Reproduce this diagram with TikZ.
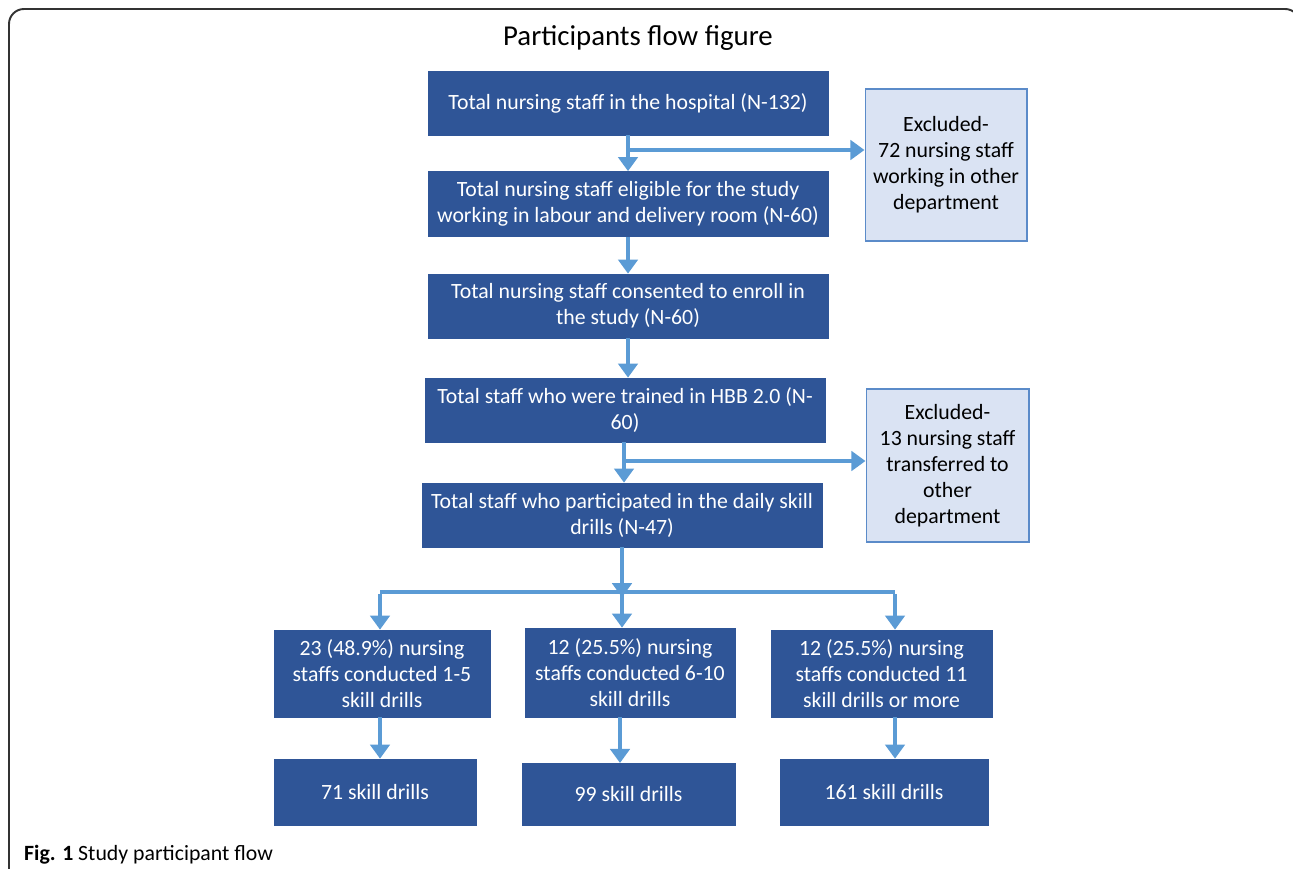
\documentclass[tikz,border=0pt]{standalone}
\usepackage{fontspec}
\setmainfont{Carlito}
\usetikzlibrary{arrows.meta}

\definecolor{boxblue}{HTML}{2F5597}
\definecolor{arrowblue}{HTML}{5B9BD5}
\definecolor{palefill}{HTML}{DAE3F3}
\definecolor{paleline}{HTML}{5B8BC9}
\definecolor{framegray}{HTML}{333333}

\tikzset{
  stage/.style={fill=boxblue,draw=boxblue,text=white,align=center,inner sep=0pt,font=\fontsize{12.4}{14.8}\selectfont},
  excl/.style={fill=palefill,draw=paleline,line width=0.6pt,align=center,inner sep=0pt,font=\fontsize{12.4}{14.8}\selectfont},
  pipe/.style={draw=arrowblue,line width=2.8pt},
  flow/.style={pipe,-{Triangle[width=11pt,length=8pt]}}
}

\begin{document}
\begin{tikzpicture}[x=0.02cm,y=-0.02cm]
	\useasboundingbox (0,0) rectangle (1293,868);
	\draw[framegray,line width=1.1pt,rounded corners=0.3cm] (9,870) -- (9,9) -- (1300,9) -- (1300,870);

	\node[font=\fontsize{16.4}{19}\selectfont] (title) at (638,38) {Participants flow figure};

	% main column
	\node[stage,minimum width=8cm,minimum height=1.28cm] (t1) at (628,103) {Total nursing staff in the hospital (N-132)};
	\node[stage,minimum width=8cm,minimum height=1.3cm] (t2) at (628,204) {Total nursing staff eligible for the study\\working in labour and delivery room (N-60)};
	\node[stage,minimum width=8cm,minimum height=1.28cm] (t3) at (628,306) {Total nursing staff consented to enroll in\\the study (N-60)};
	\node[stage,minimum width=8cm,minimum height=1.28cm] (t4) at (625,410) {Total staff who were trained in HBB 2.0 (N-\\60)};
	\node[stage,minimum width=8cm,minimum height=1.28cm] (t5) at (622,515) {Total staff who participated in the daily skill\\drills (N-47)};

	% excluded
	\node[excl,minimum width=3.24cm,minimum height=3.04cm] (x1) at (946,165) {Excluded-\\72 nursing staff\\working in other\\department};
	\node[excl,minimum width=3.26cm,minimum height=3.06cm] (x2) at (947.5,465.5) {Excluded-\\13 nursing staff\\transferred to\\other\\department};

	% groups
	\node[stage,minimum width=4.32cm,minimum height=1.74cm] (d1) at (382,673.5) {23 (48.9\%) nursing\\staffs conducted 1-5\\skill drills};
	\node[stage,minimum width=4.2cm,minimum height=1.78cm] (d2) at (630,672.5) {12 (25.5\%) nursing\\staffs conducted 6-10\\skill drills};
	\node[stage,minimum width=4.42cm,minimum height=1.74cm] (d3) at (881.5,673.5) {12 (25.5\%) nursing\\staffs conducted 11\\skill drills or more};

	\node[stage,minimum width=4.04cm,minimum height=1.32cm] (f1) at (375,792) {71 skill drills};
	\node[stage,minimum width=4.26cm,minimum height=1.24cm] (f2) at (628.5,794) {99 skill drills};
	\node[stage,minimum width=4.16cm,minimum height=1.32cm] (f3) at (884,792) {161 skill drills};

	% arrows
	\coordinate (k1) at (628,150);
	\coordinate (k2) at (624,461);
	\coordinate (sp) at (622,592);
	\coordinate (s1) at (380,592);
	\coordinate (s3) at (895,592);

	\draw[flow] (t1) -- (t2);
	\draw[flow] (k1) -- (k1 -| x1.west);
	\draw[flow] (t2) -- (t3);
	\draw[flow] (t3.south) -- (t3.south |- t4.north);
	\draw[flow] (t4.south -| k2) -- (k2 |- t5.north);
	\draw[flow] (k2) -- (k2 -| x2.west);
	\draw[flow] (t5.south -| sp) -- ([yshift=-3]sp);

	\draw[pipe] (s1) -- (s3);
	\draw[flow] ([yshift=-1.4pt]s1) -- (s1 |- d1.north);
	\draw[flow] (sp) -- (sp |- d2.north);
	\draw[flow] ([yshift=-1.4pt]s3) -- (s3 |- d3.north);

	\draw[flow] (s1 |- d1.south) -- (s1 |- f1.north);
	\draw[flow] (620,717) -- (620,763);
	\draw[flow] (s3 |- d3.south) -- (s3 |- f3.north);

	\node[anchor=west,font=\fontsize{12.4}{15}\selectfont] (cap) at (18,855) {\textbf{Fig. 1} Study participant flow};
\end{tikzpicture}
\end{document}
